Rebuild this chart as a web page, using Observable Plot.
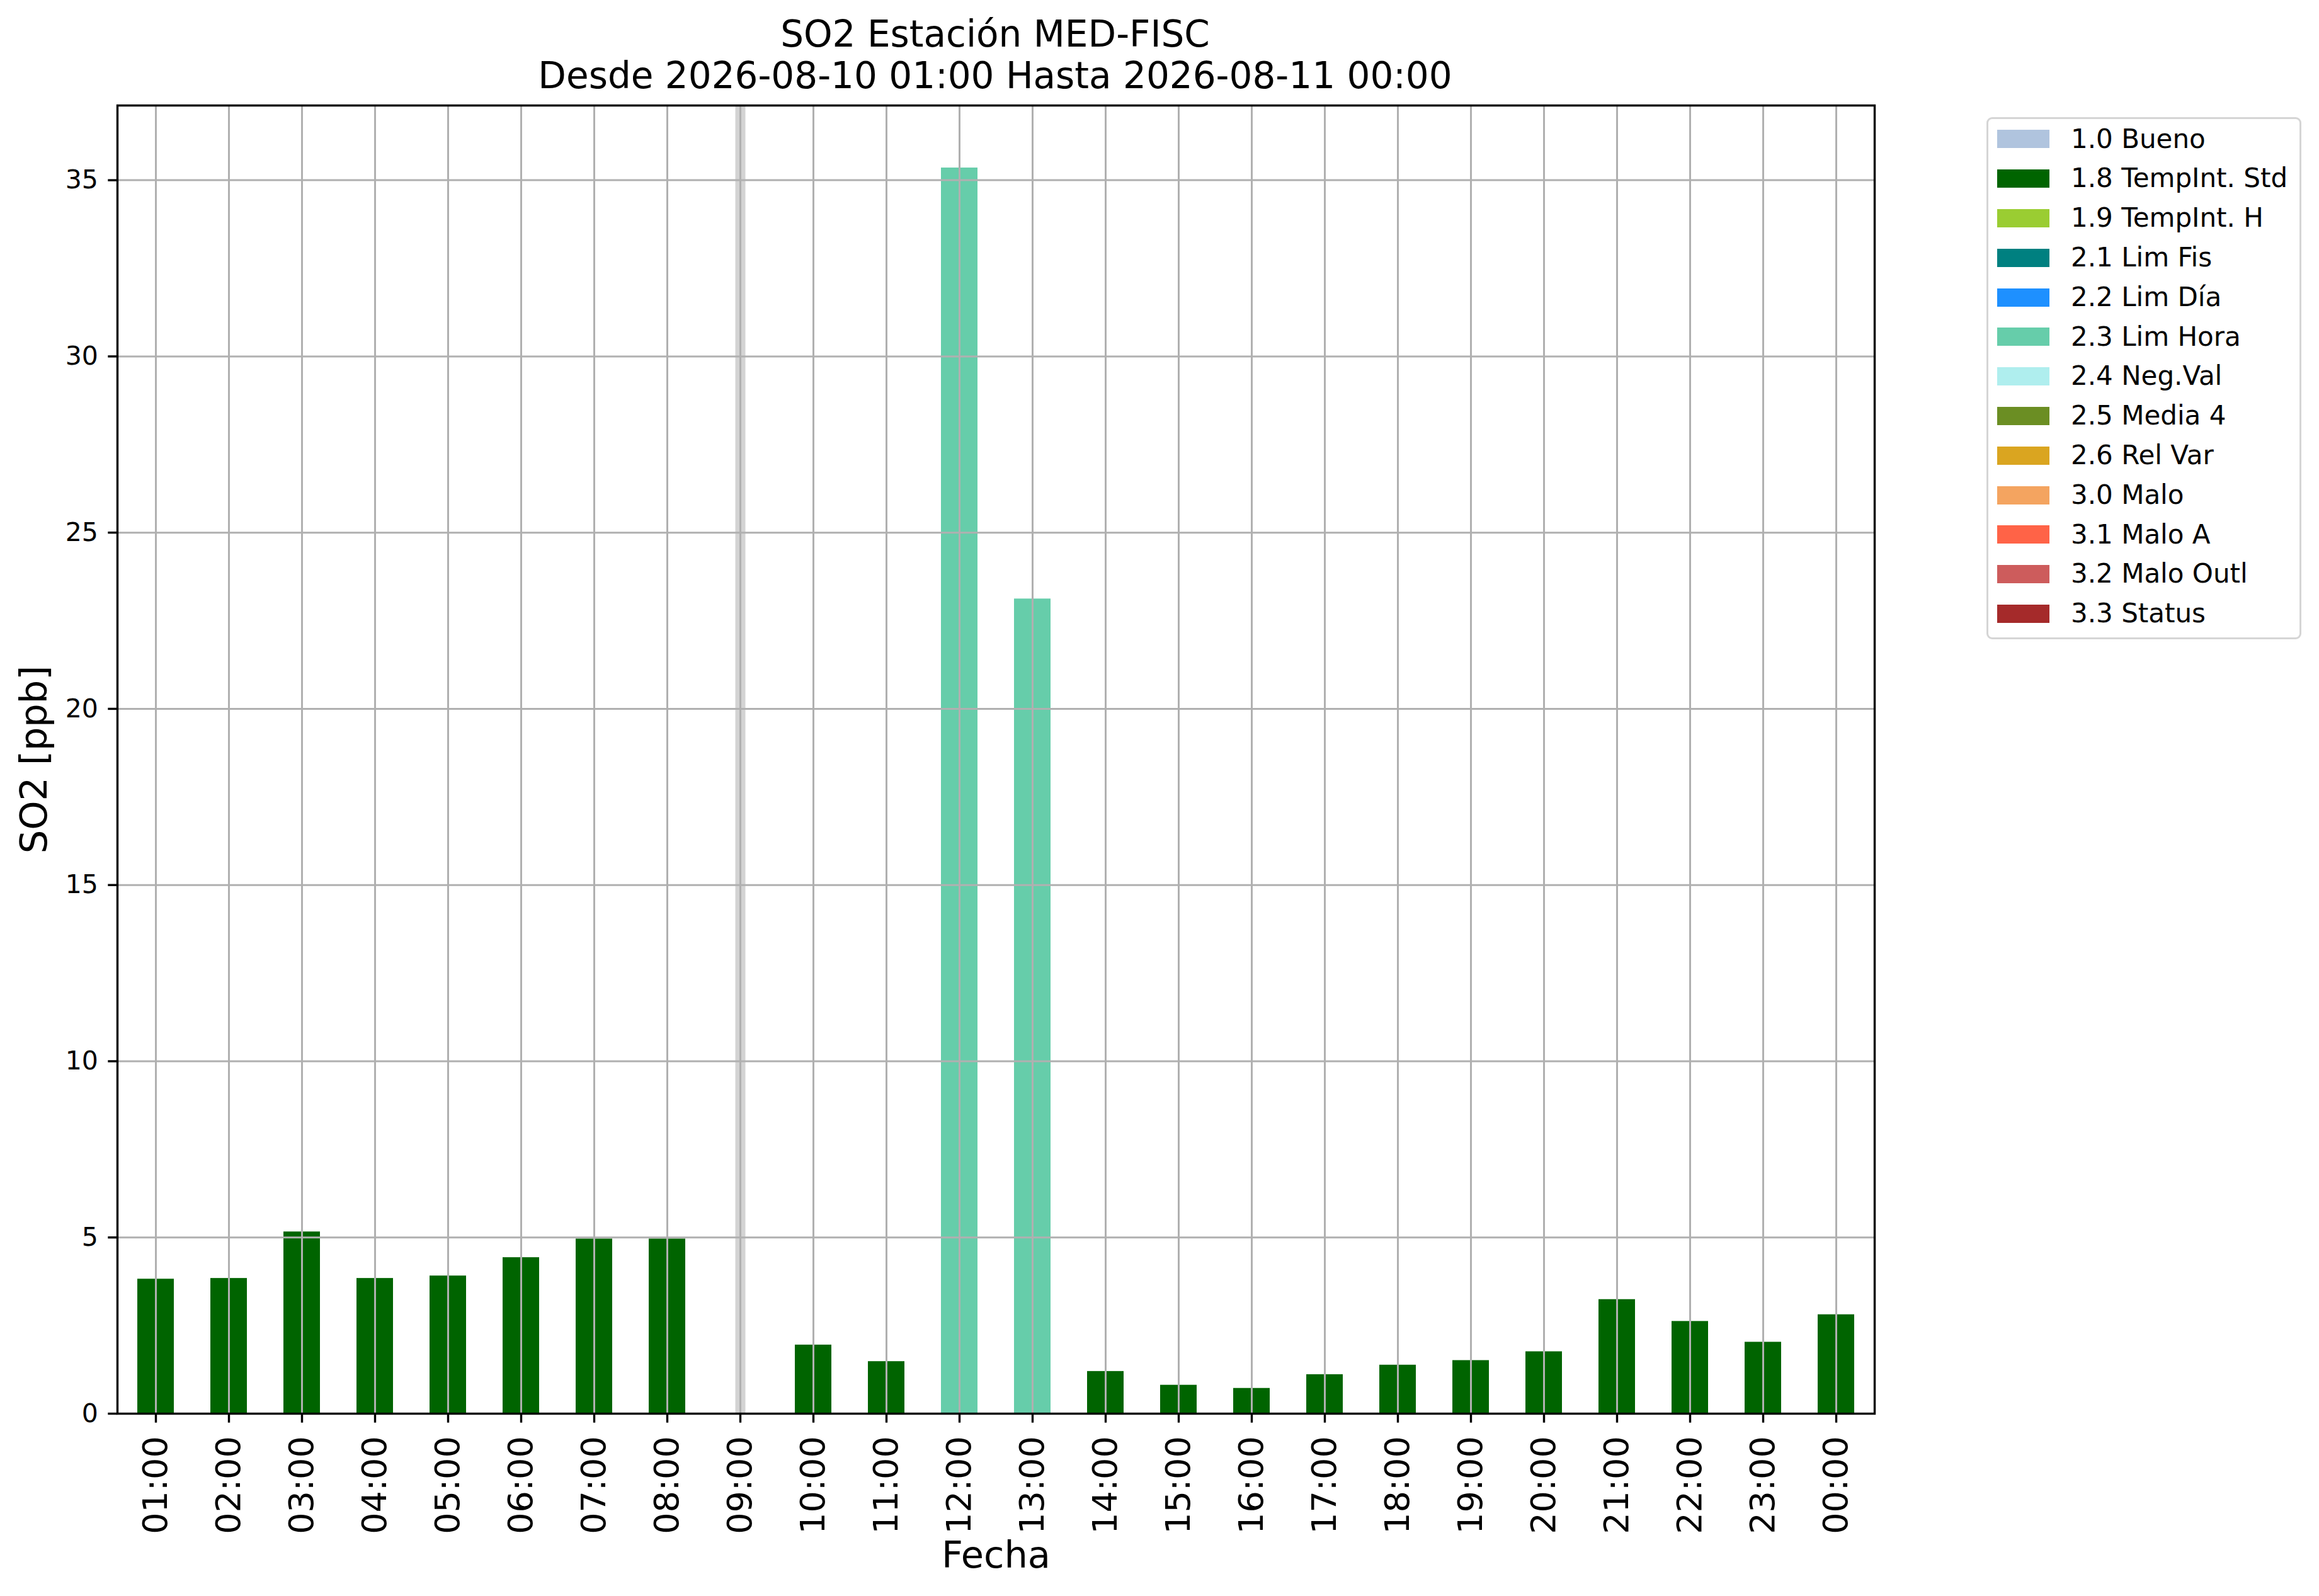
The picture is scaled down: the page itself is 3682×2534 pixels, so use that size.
<!DOCTYPE html>
<html>
<head>
<meta charset="utf-8">
<script src="https://cdn.jsdelivr.net/npm/d3@7"></script>
<script src="https://cdn.jsdelivr.net/npm/@observablehq/plot@0.6"></script>
<style>
  html, body { margin: 0; padding: 0; background: #fff; }
  #wrap { position: relative; width: 3682px; height: 2534px; font-family: "DejaVu Sans", sans-serif; color: #000; overflow: hidden; }
  #wrap svg { position: absolute; left: 0; top: 0; }
  .title { position: absolute; left: 1580px; transform: translateX(-50%); white-space: nowrap; font-size: 58px; line-height: 58px; }
  #legend { position: absolute; left: 3154px; top: 186px; width: 494px; height: 823px; border: 3px solid #d5d5d5; border-radius: 9px; background: #fff; }
  .row { position: absolute; left: 0; height: 62.8px; width: 100%; display: flex; align-items: center; }
  .sw { position: absolute; left: 14px; width: 83px; height: 29px; top: 16.9px; }
  .lab { position: absolute; left: 131px; font-size: 42px; line-height: 62.8px; top: 0; white-space: nowrap; }
</style>
</head>
<body>
<div id="wrap">
  <div class="title" style="top:25px">SO2 Estación MED-FISC</div>
  <div class="title" style="top:91px">Desde 2026-08-10 01:00 Hasta 2026-08-11 00:00</div>
  <div id="legend"></div>
</div>
<script>
// ---- data ----
const hours = ["01:00","02:00","03:00","04:00","05:00","06:00","07:00","08:00","09:00","10:00","11:00","12:00",
               "13:00","14:00","15:00","16:00","17:00","18:00","19:00","20:00","21:00","22:00","23:00","00:00"];
const so2 = [3.82, 3.84, 5.16, 3.84, 3.91, 4.43, 4.96, 4.96, null, 1.95, 1.48, 35.35,
             23.12, 1.20, 0.81, 0.72, 1.11, 1.38, 1.51, 1.76, 3.24, 2.62, 2.03, 2.81];
const hourFlags = ["1.8 TempInt. Std","1.8 TempInt. Std","1.8 TempInt. Std","1.8 TempInt. Std","1.8 TempInt. Std",
                   "1.8 TempInt. Std","1.8 TempInt. Std","1.8 TempInt. Std",null,"1.8 TempInt. Std","1.8 TempInt. Std",
                   "2.3 Lim Hora","2.3 Lim Hora","1.8 TempInt. Std","1.8 TempInt. Std","1.8 TempInt. Std",
                   "1.8 TempInt. Std","1.8 TempInt. Std","1.8 TempInt. Std","1.8 TempInt. Std","1.8 TempInt. Std",
                   "1.8 TempInt. Std","1.8 TempInt. Std","1.8 TempInt. Std"];
const missingHours = ["09:00"];
const flagLabels = ["1.0 Bueno","1.8 TempInt. Std","1.9 TempInt. H","2.1 Lim Fis","2.2 Lim Día","2.3 Lim Hora",
                    "2.4 Neg.Val","2.5 Media 4","2.6 Rel Var","3.0 Malo","3.1 Malo A","3.2 Malo Outl","3.3 Status"];
const flagColors = ["#b0c4de","#006400","#9acd32","#008080","#1e90ff","#66cdaa",
                    "#afeeee","#6b8e23","#daa520","#f4a460","#ff6347","#cd5c5c","#a52a2a"];
const yTicks = [0, 5, 10, 15, 20, 25, 30, 35];
const yMax = 37.12;

const rows = hours.map((h, i) => ({hour: h, value: so2[i], flag: hourFlags[i]}))
                  .filter(d => d.value != null);

const grid = {stroke: "#b0b0b0", strokeOpacity: 1, strokeWidth: 3};

const chart = Plot.plot({
  width: 3682,
  height: 2534,
  marginLeft: 186,
  marginRight: 3682 - 2976,
  marginTop: 167,
  marginBottom: 2534 - 2244,
  style: {fontFamily: "DejaVu Sans", color: "#000", background: "transparent"},
  x: {domain: hours, paddingInner: 0.5, paddingOuter: 0.25, align: 0.5, label: null},
  y: {domain: [0, yMax], label: null},
  color: {domain: flagLabels, range: flagColors},
  marks: [
    Plot.ruleX(missingHours, {x: d => d, stroke: "#d3d3d3", strokeWidth: 16}),
    Plot.barY(rows, {x: "hour", y: "value", fill: "flag"}),
    Plot.gridX({...grid}),
    Plot.gridY(yTicks, {...grid}),
    Plot.frame({stroke: "#000", strokeWidth: 3.4}),
    Plot.axisY(yTicks, {tickSize: 14.7, tickPadding: 16, fontSize: 41, strokeWidth: 3.4, label: null, tickFormat: d => String(d)}),
    Plot.axisX({tickRotate: -90, tickSize: 14.7, tickPadding: 21, fontSize: 54, strokeWidth: 3.4, label: null}),
    Plot.text(["SO2 [ppb]"], {text: d => d, frameAnchor: "left", textAnchor: "middle", lineAnchor: "middle",
                              dx: -131, rotate: -90, fontSize: 59, fill: "#000"}),
    Plot.text(["Fecha"], {text: d => d, frameAnchor: "bottom", textAnchor: "middle", lineAnchor: "middle",
                          dy: 226, fontSize: 59, fill: "#000"})
  ]
});
document.getElementById("wrap").insertBefore(chart, document.getElementById("legend"));

// ---- legend ----
const leg = document.getElementById("legend");
flagLabels.forEach((lab, i) => {
  const row = document.createElement("div");
  row.className = "row";
  row.style.top = (32 + i * 62.8 - 31.4) + "px";
  const sw = document.createElement("div");
  sw.className = "sw";
  sw.style.background = flagColors[i];
  const tx = document.createElement("div");
  tx.className = "lab";
  tx.textContent = lab;
  row.appendChild(sw);
  row.appendChild(tx);
  leg.appendChild(row);
});
</script>
</body>
</html>
